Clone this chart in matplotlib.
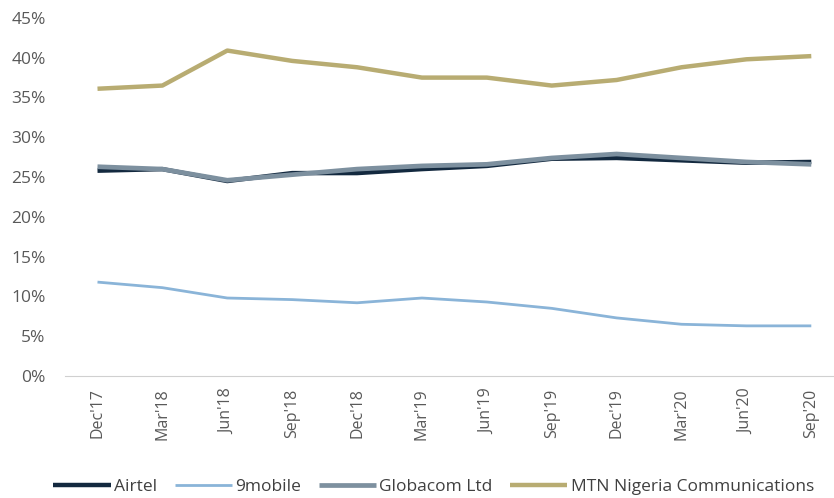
import matplotlib.pyplot as plt
from matplotlib.ticker import FuncFormatter

quarters = ["Dec'17", "Mar'18", "Jun'18", "Sep'18", "Dec'18", "Mar'19",
            "Jun'19", "Sep'19", "Dec'19", "Mar'20", "Jun'20", "Sep'20"]

airtel = [25.8, 26.0, 24.5, 25.5, 25.5, 26.0, 26.4, 27.3, 27.4, 27.1, 26.8, 26.9]
mobile9 = [11.8, 11.1, 9.8, 9.6, 9.2, 9.8, 9.3, 8.5, 7.3, 6.5, 6.3, 6.3]
globacom = [26.3, 26.0, 24.6, 25.3, 26.0, 26.4, 26.6, 27.4, 27.9, 27.4, 26.9, 26.6]
mtn = [36.1, 36.5, 40.9, 39.6, 38.8, 37.5, 37.5, 36.5, 37.2, 38.8, 39.8, 40.2]

plt.rcParams['font.family'] = ['Open Sans', 'DejaVu Sans']

fig = plt.figure(figsize=(8.34, 4.98), dpi=100)
ax = fig.add_axes([0.078, 0.245, 0.922, 0.719])

x = range(len(quarters))
ax.plot(x, airtel, color='#13293f', linewidth=3.2, label='Airtel', solid_capstyle='butt')
ax.plot(x, mobile9, color='#8ab4d8', linewidth=2.0, label='9mobile', solid_capstyle='butt')
ax.plot(x, globacom, color='#7d909f', linewidth=3.4, label='Globacom Ltd', solid_capstyle='butt')
ax.plot(x, mtn, color='#b8ac72', linewidth=3.2, label='MTN Nigeria Communications', solid_capstyle='butt')

ax.set_ylim(0, 45)
ax.set_xlim(-0.5, 11.35)
ax.set_yticks(range(0, 46, 5))
ax.yaxis.set_major_formatter(FuncFormatter(lambda v, p: f'{v:.0f}%'))
ax.set_xticks(list(x))
ax.set_xticklabels(quarters, rotation=90)

for s in ['top', 'right', 'left']:
    ax.spines[s].set_visible(False)
ax.spines['bottom'].set_color('#d0d0d0')
ax.tick_params(axis='both', length=0, colors='#595959')
ax.tick_params(axis='x', pad=9, labelsize=11.5)
ax.tick_params(axis='y', pad=14, labelsize=12.5)

fig.legend(loc='lower center', bbox_to_anchor=(0.52, -0.025), ncol=4, frameon=False,
           fontsize=12.5, handlelength=3.3, columnspacing=1.0, handletextpad=0.2,
           labelcolor='#404040')

fig.savefig('out.png', dpi=100)
